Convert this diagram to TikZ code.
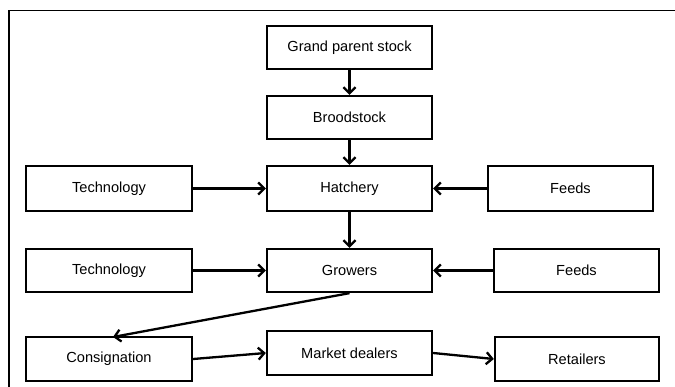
\documentclass[tikz,border=0pt]{standalone}
\usepackage{fontspec}
\setmainfont{Liberation Sans}
\usetikzlibrary{arrows.meta}
\begin{document}
\begin{tikzpicture}[x=1pt,y=-1pt,
  box/.style={draw=black, line width=2.3pt, fill=white, inner sep=0pt, minimum height=43pt, font=\fontsize{14.6}{16}\selectfont},
  conn/.style={line width=2.3pt, -{Straight Barb[length=6pt,width=12pt,line width=2.3pt]}}]
\useasboundingbox (0,0) rectangle (675,387);
\fill[white] (0,0) rectangle (675,387);
\draw[line width=1.6pt] (9,387) -- (9,10.5) -- (675,10.5);
\node[box, minimum width=165pt, minimum height=43pt] (gp) at (349.5,47.5) {Grand parent stock};
\node[box, minimum width=165pt, minimum height=43pt] (br) at (349.5,117.5) {Broodstock};
\node[box, minimum width=165pt, minimum height=45pt] (ha) at (349.5,188.5) {Hatchery};
\node[box, minimum width=166pt, minimum height=45pt] (t1) at (109,188.5) {Technology};
\node[box, minimum width=165pt, minimum height=45pt] (f1) at (570.5,188.5) {Feeds};
\node[box, minimum width=165pt, minimum height=43pt] (gr) at (349.5,270.5) {Growers};
\node[box, minimum width=166pt, minimum height=43pt] (t2) at (109,270.5) {Technology};
\node[box, minimum width=165pt, minimum height=43pt] (f2) at (576.5,270.5) {Feeds};
\node[box, minimum width=166pt, minimum height=44pt] (co) at (109,359) {Consignation};
\node[box, minimum width=165pt, minimum height=44pt] (md) at (349.5,353) {Market dealers};
\node[box, minimum width=164pt, minimum height=44pt] (re) at (577,359) {Retailers};
\coordinate (coin) at (113,337);
\draw[conn] (gp) -- (br);
\draw[conn] (br) -- (ha);
\draw[conn] (t1) -- (ha);
\draw[conn] (f1) -- (ha);
\draw[conn] (ha) -- (gr);
\draw[conn] (t2) -- (gr);
\draw[conn] (f2) -- (gr);
\draw[conn] (gr.south) -- (coin);
\draw[conn] (co.east) -- (md.west);
\draw[conn] (md.east) -- (re.west);
\end{tikzpicture}
\end{document}
